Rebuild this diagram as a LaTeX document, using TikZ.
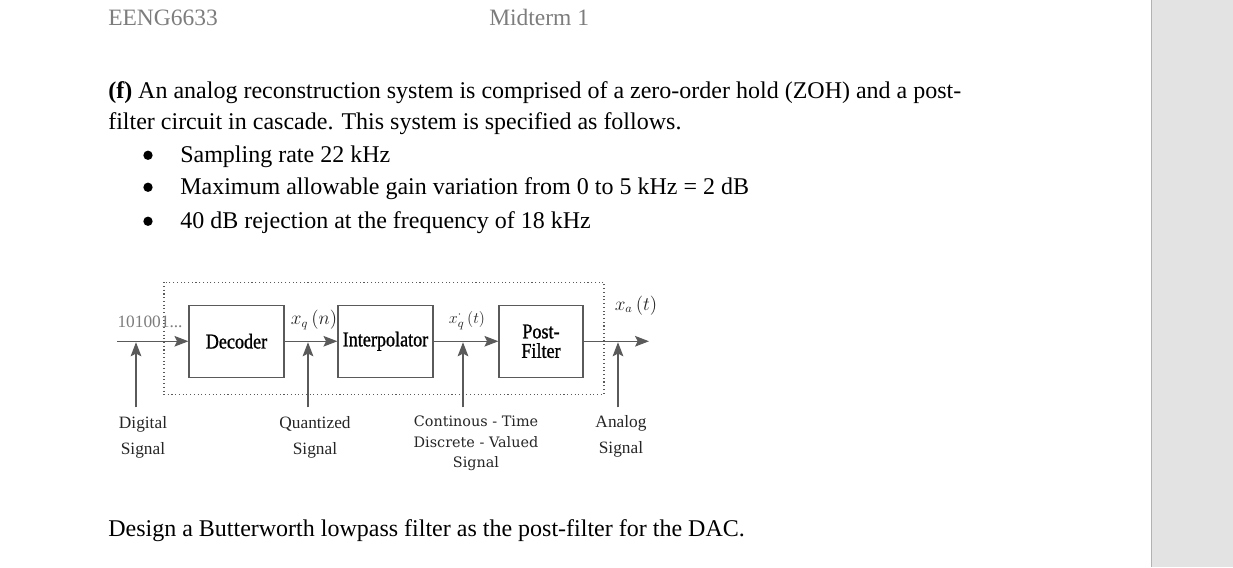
\documentclass[tikz,border=0pt]{standalone}
\usepackage{fontspec}
\setmainfont{Liberation Serif}
\newfontfamily\blockfont[FakeStretch=0.86,FakeBold=1]{Liberation Serif}
\newfontfamily\wideserif{DejaVu Serif}
\usetikzlibrary{arrows.meta}
\definecolor{hdrgray}{RGB}{125,125,125}
\definecolor{panelgray}{RGB}{227,227,227}
\definecolor{wire}{RGB}{90,90,90}
\begin{document}
\begin{tikzpicture}[x=0.75pt,y=-0.75pt,
	txt/.style={anchor=base west,inner sep=0pt,font=\fontsize{18}{22}\selectfont},
	hdr/.style={anchor=base west,inner sep=0pt,text=hdrgray,font=\fontsize{17.6}{21}\selectfont},
	block/.style={draw=wire,line width=0.9pt,minimum width=71.25pt,minimum height=54pt,inner sep=0pt,align=center,font=\blockfont\fontsize{15.8}{14.6}\selectfont},
	sig/.style={wire,line width=0.8pt,-{Stealth[length=10.5pt,width=8pt,inset=2pt]}},
	lab/.style={inner sep=0pt,text=black!85,align=center,font=\fontsize{13}{19.5}\selectfont},
	dot/.style={circle,fill=black,inner sep=0pt,minimum size=7pt}]
	% page
	\fill[white] (0,0) rectangle (1233,567);
	\fill[panelgray] (1151,0) rectangle (1233,567);
	\draw[gray!60] (1151.5,0) -- (1151.5,567);
	% header and question
	\node[hdr](course) at (108,25){EENG6633};
	\node[hdr](exam) at (489,25){Midterm 1};
	\node[txt](q1) at (108,98){\textbf{(f)} An analog reconstruction system is comprised of a zero-order hold (ZOH) and a post-};
	\node[txt](q2) at (108,129){filter circuit in cascade. This system is specified as follows.};
	\foreach \i/\y/\t in {1/162/Sampling rate 22 kHz,2/194/Maximum allowable gain variation from 0 to 5 kHz = 2 dB,3/228/40 dB rejection at the frequency of 18 kHz}{
		\node[dot](bul\i) at (148,\y-7){};
		\node[txt](spec\i) at (180,\y){\t};
	}
	\node[txt](task) at (108,536){Design a Butterworth lowpass filter as the post-filter for the DAC.};
	% block diagram
	\draw[wire,dotted,line width=0.8pt] (164,282) rectangle (604,394);
	\node[block](dec) at (236.5,341){Decoder};
	\node[block](interp) at (385.5,341){Interpolator};
	\node[block,minimum width=63pt](post) at (541,341){Post-\\Filter};
	\coordinate (in) at (117,341);
	\coordinate (out) at (649,341);
	\draw[sig](in)--(dec);
	\draw[sig](dec)--(interp);
	\draw[sig](interp)--(post);
	\draw[sig](post)--(out);
	\foreach \n/\x in {1/136,2/308,3/463,4/618}{
		\coordinate (tail\n) at (\x,407);
		\coordinate (head\n) at (\x,342);
		\draw[sig](tail\n)--(head\n);
	}
	\node[lab,text=hdrgray](bits) at (150,322){101001...};
	\node[lab,font=\fontsize{13.5}{16}\selectfont](xq) at (314,320){$x_q\,(n)$};
	\node[lab,font=\fontsize{12.5}{15}\selectfont](xqi) at (467,320){$x^{\cdot}_q\,(t)$};
	\node[lab,font=\fontsize{13.5}{16}\selectfont](xa) at (636,305){$x_a\,(t)$};
	\node[lab](dig) at (143,437){Digital\\Signal};
	\node[lab](quant) at (315,437){Quantized\\Signal};
	\node[lab,font=\wideserif\fontsize{10.8}{15.7}\selectfont](ctdv) at (476,443){Continous - Time\\Discrete - Valued\\Signal};
	\node[lab](ana) at (621,436.5){Analog\\Signal};
\end{tikzpicture}
\end{document}
